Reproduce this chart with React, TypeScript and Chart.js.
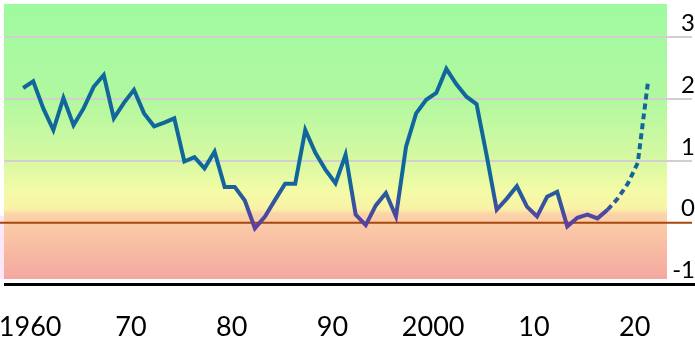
import React, { useEffect, useRef } from "react";
import { Chart, registerables } from "chart.js";

Chart.register(...registerables);

const years = [
  1960, 1961, 1962, 1963, 1964, 1965, 1966, 1967, 1968, 1969,
  1970, 1971, 1972, 1973, 1974, 1975, 1976, 1977, 1978, 1979,
  1980, 1981, 1982, 1983, 1984, 1985, 1986, 1987, 1988, 1989,
  1990, 1991, 1992, 1993, 1994, 1995, 1996, 1997, 1998, 1999,
  2000, 2001, 2002, 2003, 2004, 2005, 2006, 2007, 2008, 2009,
  2010, 2011, 2012, 2013, 2014, 2015, 2016, 2017, 2018, 2019,
  2020, 2021, 2022,
];

const values = [
  2.18, 2.29, 1.85, 1.5, 2.02, 1.58, 1.85, 2.2, 2.39, 1.69,
  1.94, 2.15, 1.77, 1.56, 1.62, 1.69, 0.99, 1.06, 0.88, 1.15,
  0.58, 0.58, 0.36, -0.09, 0.1, 0.37, 0.63, 0.63, 1.5, 1.13,
  0.86, 0.64, 1.1, 0.13, -0.04, 0.28, 0.48, 0.1, 1.23, 1.77,
  1.99, 2.1, 2.49, 2.24, 2.04, 1.92, 1.09, 0.21, 0.39, 0.59,
  0.26, 0.1, 0.42, 0.5, -0.06, 0.08, 0.13, 0.07, 0.21, 0.39,
  0.63, 0.97, 2.26,
];

const forecastFrom = 2018;
const yTicks = [-1, 0, 1, 2, 3];
const xTickYears = [1960, 1970, 1980, 1990, 2000, 2010, 2020];
const xTickLabels = ["1960", "70", "80", "90", "2000", "10", "20"];

export default function App() {
  const ref = useRef<HTMLCanvasElement | null>(null);

  useEffect(() => {
    document.body.style.margin = "0";
    const canvas = ref.current;
    if (!canvas) return;

    const decor = {
      id: "decor",
      beforeDraw(chart: any) {
        const { ctx, chartArea: a, scales } = chart;
        const bottom = a.bottom - 5.5;
        const g = ctx.createLinearGradient(0, a.top, 0, bottom);
        g.addColorStop(0, "#9ffaa0");
        g.addColorStop(0.34, "#b0f8a0");
        g.addColorStop(0.575, "#d8f9a2");
        g.addColorStop(0.68, "#f4fba6");
        g.addColorStop(0.745, "#f8f2a6");
        g.addColorStop(0.765, "#fcd2a8");
        g.addColorStop(1, "#f4a8a0");
        ctx.save();
        ctx.fillStyle = g;
        ctx.fillRect(a.left, a.top, a.right - a.left, bottom - a.top);
        const y0 = scales.y.getPixelForValue(0);
        ctx.fillStyle = "#fce6f8";
        ctx.fillRect(0, y0 - 7, a.left, bottom - y0 + 7);
        ctx.restore();
      },
      beforeDatasetsDraw(chart: any) {
        const { ctx, chartArea: a, scales } = chart;
        const y0 = scales.y.getPixelForValue(0);
        const yb = scales.y.getPixelForValue(yTicks[0]);
        ctx.save();
        ctx.strokeStyle = "#a8460e";
        ctx.lineWidth = 2;
        ctx.beginPath();
        ctx.moveTo(0, y0);
        ctx.lineTo(a.right + 25, y0);
        ctx.stroke();
        ctx.strokeStyle = "#000000";
        ctx.lineWidth = 3;
        ctx.beginPath();
        ctx.moveTo(a.left, yb);
        ctx.lineTo(chart.width, yb);
        ctx.stroke();
        ctx.restore();
      },
    };

    const chart = new Chart(canvas, {
      type: "line",
      data: {
        datasets: [
          {
            data: years.map((yr, i) => ({ x: yr, y: values[i] })),
            borderWidth: 4,
            pointRadius: 0,
            tension: 0,
            borderCapStyle: "butt",
            borderJoinStyle: "miter",
            borderColor: (c: any) => {
              const ch = c.chart;
              if (!ch.chartArea) return "#11679c";
              const y = ch.scales.y;
              const g = ch.ctx.createLinearGradient(
                0,
                y.getPixelForValue(0.7),
                0,
                y.getPixelForValue(-0.05)
              );
              g.addColorStop(0, "#11679c");
              g.addColorStop(1, "#5a40a0");
              return g;
            },
            segment: {
              borderDash: (s: any) =>
                s.p0.parsed.x >= forecastFrom ? [6, 4] : undefined,
            },
          } as any,
        ],
      },
      options: {
        animation: false,
        responsive: false,
        devicePixelRatio: 1,
        layout: { padding: { left: 4, top: 4, right: 0, bottom: 0 } },
        plugins: {
          legend: { display: false },
          tooltip: { enabled: false },
        },
        scales: {
          x: {
            type: "linear",
            min: 1958.1,
            max: 2023.9,
            grid: { display: false },
            border: { display: false },
            afterBuildTicks: (scale: any) => {
              scale.ticks = xTickYears.map((v) => ({ value: v }));
            },
            afterFit: (scale: any) => {
              scale.height = 55.5;
              scale.paddingLeft = 0;
              scale.paddingRight = 0;
            },
            ticks: {
              autoSkip: false,
              maxRotation: 0,
              minRotation: 0,
              padding: 19,
              labelOffset: 7,
              color: "#000000",
              font: { family: "Lato", size: 27 },
              callback: (_v: any, i: number) => xTickLabels[i],
            },
          },
          y: {
            type: "linear",
            position: "right",
            min: -1,
            max: 3.54,
            afterBuildTicks: (scale: any) => {
              scale.ticks = yTicks.map((v) => ({ value: v }));
            },
            afterFit: (scale: any) => {
              scale.width = 28;
              scale.paddingTop = 0;
              scale.paddingBottom = 0;
            },
            grid: {
              drawTicks: true,
              tickLength: 25,
              lineWidth: 2,
              color: (c: any) =>
                c.tick && (c.tick.value === 0 || c.tick.value === yTicks[0])
                  ? "rgba(0,0,0,0)"
                  : "#d3cfcf",
            },
            border: { display: false },
            ticks: {
              crossAlign: "far",
              padding: -24,
              labelOffset: -14,
              color: "#000000",
              font: { family: "Lato", size: 24 },
              callback: (v: any) => String(v),
            },
          },
        },
      },
      plugins: [decor],
    });

    return () => chart.destroy();
  }, []);

  return (
    <div style={{ width: 695, height: 340 }}>
      <canvas ref={ref} width={695} height={340} />
    </div>
  );
}
